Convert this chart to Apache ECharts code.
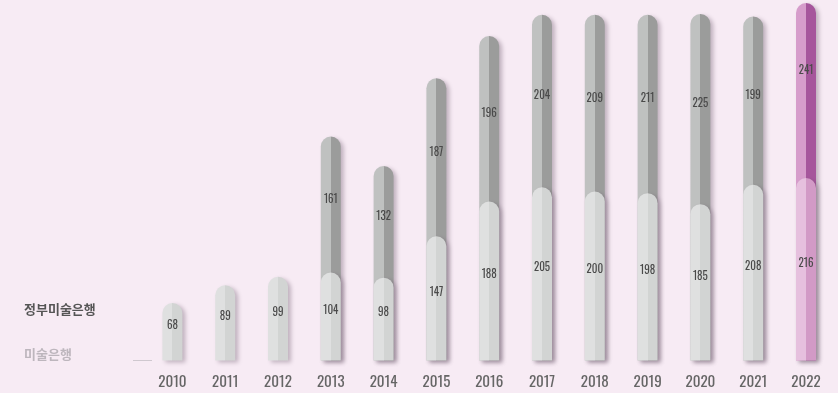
<!DOCTYPE html>
<html>
<head>
<meta charset="utf-8">
<script src="https://cdn.jsdelivr.net/npm/echarts@6/dist/echarts.min.js"></script>
<style>
html,body{margin:0;padding:0;background:#f7ebf4;}
#chart{width:838px;height:393px;}
</style>
</head>
<body>
<div id="chart"></div>
<script>
// ---- data ----
const years = ['2010','2011','2012','2013','2014','2015','2016','2017','2018','2019','2020','2021','2022'];
const museumBank = [68, 89, 99, 104, 98, 147, 188, 205, 200, 198, 185, 208, 216];      // 미술은행
const govBank    = [null, null, null, 161, 132, 187, 196, 204, 209, 211, 225, 199, 241]; // 정부미술은행
const seriesNames = ['정부미술은행', '미술은행'];
const highlightYear = '2022';

const totals = museumBank.map((v, i) => govBank[i] == null ? null : v + govBank[i]);

function split(l, r) {
  return new echarts.graphic.LinearGradient(0, 0, 1, 0, [
    {offset: 0, color: l}, {offset: 0.5, color: l},
    {offset: 0.5, color: r}, {offset: 1, color: r}
  ]);
}
const darkGray = split('#bfc1c0', '#9b9c9b');
const lightGray = split('#dfe0e0', '#d2d4d3');
const darkPink = split('#d69dcb', '#a6569c');
const lightPink = split('#e6c0de', '#d29ac6');

const shadow = {shadowColor: 'rgba(90,70,90,0.35)', shadowBlur: 4, shadowOffsetX: 3, shadowOffsetY: 2};
const hi = years.indexOf(highlightYear);
const numFont = 'Oswald, "Roboto Condensed", sans-serif';

const chart = echarts.init(document.getElementById('chart'), null, {renderer: 'canvas'});
const labelStyle = {
  show: true, position: 'inside', offset: [0, -6],
  color: '#4a4a4a', fontSize: 11, fontFamily: numFont
};
chart.setOption({
  backgroundColor: '#f7ebf4',
  animation: false,
  grid: {left: 146, right: 5.6, top: 3, bottom: 32.5},
  xAxis: {
    type: 'category', data: years,
    axisLine: {show: false}, axisTick: {show: false},
    axisLabel: {color: '#666', fontSize: 15, margin: 14, fontFamily: numFont}
  },
  yAxis: {type: 'value', min: 0, max: 423, show: false, splitLine: {show: false}},
  graphic: [
    {type: 'text', left: 24, top: 303, style: {text: seriesNames[0], fill: '#555', font: 'bold 13px "Noto Sans CJK KR", sans-serif'}},
    {type: 'text', left: 24, top: 348, style: {text: seriesNames[1], fill: '#bdb6bd', font: 'bold 13px "Noto Sans CJK KR", sans-serif'}},
    {type: 'line', shape: {x1: 133, y1: 360.5, x2: 152, y2: 360.5}, style: {stroke: '#cfc8cf', lineWidth: 1}}
  ],
  series: [
    {
      name: seriesNames[0] + '-bg', type: 'bar', barWidth: 20, barGap: '-100%', silent: true,
      data: totals.map((v, i) => ({value: v, itemStyle: {color: i === hi ? darkPink : darkGray}})),
      itemStyle: Object.assign({borderRadius: [10, 10, 0, 0]}, shadow)
    },
    {
      name: seriesNames[1], type: 'bar', stack: 'a', barWidth: 20, barGap: '-100%', silent: true,
      data: museumBank.map((v, i) => ({value: v, itemStyle: {color: i === hi ? lightPink : lightGray}})),
      itemStyle: Object.assign({borderRadius: [10, 10, 0, 0]}, shadow),
      label: labelStyle
    },
    {
      name: seriesNames[0], type: 'bar', stack: 'a', barWidth: 20, barGap: '-100%', silent: true, clip: false,
      data: govBank,
      itemStyle: {color: 'rgba(0,0,0,0)'},
      label: Object.assign({}, labelStyle, {offset: [0, -5]})
    }
  ]
});
</script>
</body>
</html>
